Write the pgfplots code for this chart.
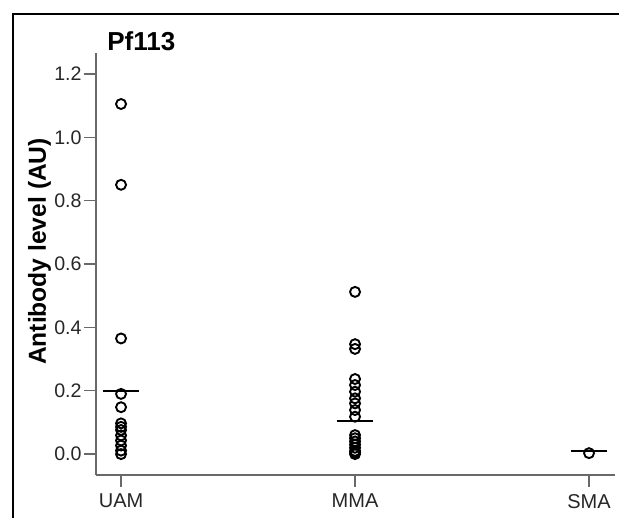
\documentclass[border=0pt]{standalone}
\usepackage{pgfplots}
\pgfplotsset{compat=1.18}
\usepackage{fontspec}
\setmainfont{Liberation Sans}
\definecolor{axisgray}{RGB}{105,105,105}
\begin{document}
\begin{tikzpicture}
\useasboundingbox (0,0) rectangle (309.5pt,-259pt);
% frame of the original panel
\draw[line width=0.8pt] (6.5pt,-259pt) -- (6.5pt,-7pt) -- (309.5pt,-7pt);
\node[anchor=base west, font=\bfseries\fontsize{13}{15}\selectfont, inner sep=0pt] at (53.5pt,-25.3pt) {Pf113};
\begin{axis}[
  at={(48pt,-237.5pt)}, anchor=south west,
  scale only axis, width=259.5pt, height=211pt,
  xmin=-0.107, xmax=2.111, ymin=-0.066, ymax=1.266,
  axis x line=bottom, axis y line=left,
  axis line style={-, axisgray, line width=0.6pt},
  tick style={axisgray, line width=0.6pt},
  tick align=outside, major tick length=6pt,
  xtick={0,1,2}, xticklabels={UAM,MMA,SMA},
  ytick={0,0.2,0.4,0.6,0.8,1.0,1.2},
  yticklabel style={inner xsep=1pt, font=\fontsize{9.8}{12}\selectfont,
    /pgf/number format/fixed, /pgf/number format/fixed zerofill, /pgf/number format/precision=1},
  xticklabel style={font=\fontsize{10}{12}\selectfont},
  /pgf/number format/assume math mode=true,
  ticklabel style={text=black!85},
  ylabel={Antibody level (AU)},
  ylabel style={at={(axis description cs:-0.0965,0.5296)}, anchor=base,
    font=\bfseries\fontsize{12.3}{14}\selectfont},
  clip=false,
]
% UAM
\addplot[only marks, mark=o, mark size=2.5pt, mark options={line width=0.95pt, black}] coordinates {
  (0,1.105) (0,0.85) (0,0.365) (0,0.19) (0,0.148) (0,0.097) (0,0.086) (0,0.076)
  (0,0.059) (0,0.043) (0,0.027) (0,0.011) (0,0.0)
};
% MMA
\addplot[only marks, mark=o, mark size=2.5pt, mark options={line width=0.95pt, black}] coordinates {
  (1,0.512) (1,0.347) (1,0.332) (1,0.237) (1,0.218) (1,0.197) (1,0.176) (1,0.16)
  (1,0.139) (1,0.118) (1,0.06) (1,0.05) (1,0.04) (1,0.03) (1,0.02) (1,0.01) (1,0.005) (1,0.0)
};
% SMA
\addplot[only marks, mark=o, mark size=2.5pt, mark options={line width=0.95pt, black}] coordinates {
  (2,0.003)
};
% medians
\addplot[only marks, mark=-, mark size=9pt, mark options={line width=0.8pt, black}] coordinates {
  (0,0.2) (1,0.105) (2,0.01)
};
\end{axis}
\end{tikzpicture}
\end{document}
